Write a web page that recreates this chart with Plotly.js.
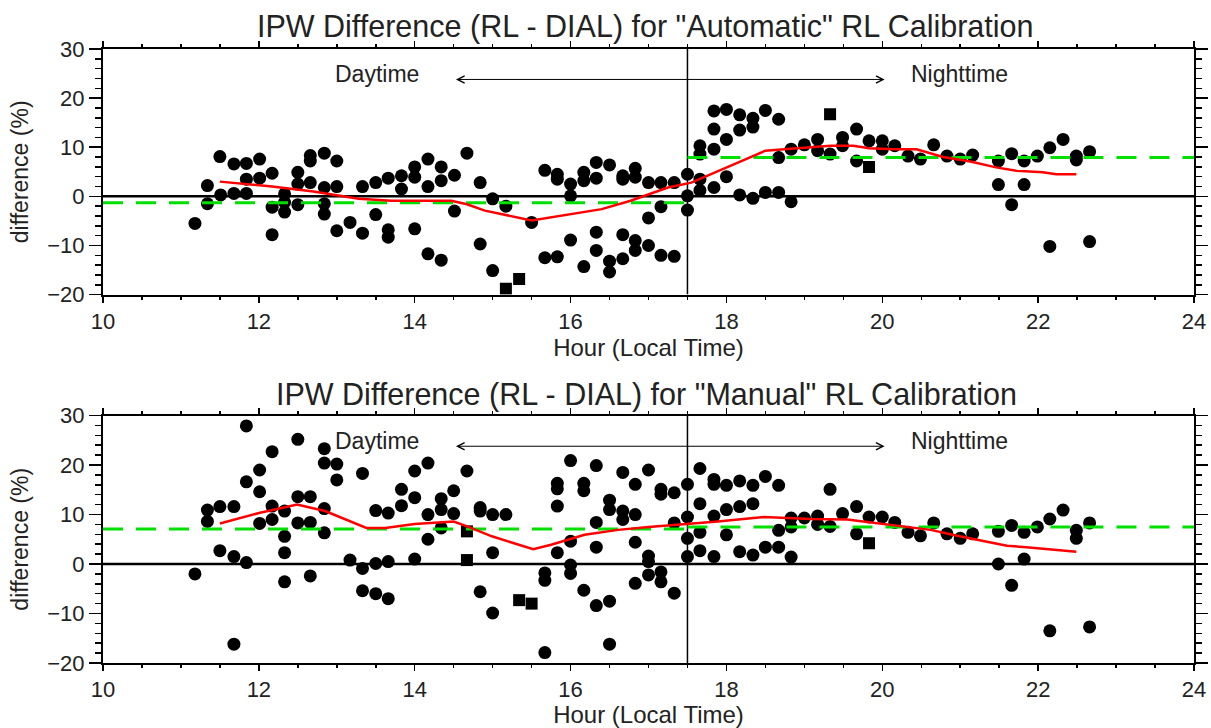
<!DOCTYPE html>
<html><head><meta charset="utf-8">
<script src="https://cdn.plot.ly/plotly-3.0.1.min.js"></script>
<style>html,body{margin:0;padding:0;background:#fff}</style>
</head><body><div id="chart" style="width:1211px;height:728px"></div>
<script>
// ---------- Top panel: "Automatic" RL calibration ----------
const autoCircleHour = [11.18,11.34,11.34,11.50,11.51,11.68,11.68,11.84,11.84,11.84,12.01,12.01,12.17,12.17,12.17,12.33,12.33,12.33,12.50,12.50,12.50,12.66,12.66,12.66,12.84,12.84,12.84,12.84,13.00,13.00,13.00,13.17,13.33,13.33,13.50,13.50,13.66,13.66,13.66,13.83,13.83,14.00,14.00,14.00,14.17,14.17,14.17,14.34,14.34,14.34,14.51,14.51,14.67,14.84,14.84,15.00,15.00,15.17,15.50,15.67,15.67,15.83,15.83,15.83,16.00,16.00,16.00,16.17,16.17,16.17,16.33,16.33,16.33,16.33,16.50,16.50,16.50,16.67,16.67,16.67,16.67,16.83,16.83,16.83,16.83,17.00,17.00,17.00,17.16,17.16,17.16,17.33,17.33,17.50,17.50,17.50,17.66,17.66,17.66,17.66,17.84,17.84,17.84,17.84,18.00,18.00,18.00,18.17,18.17,18.17,18.34,18.34,18.34,18.50,18.50,18.67,18.67,18.67,18.83,18.83,19.00,19.17,19.17,19.33,19.49,19.49,19.67,19.67,19.83,20.00,20.00,20.16,20.33,20.49,20.66,20.83,21.00,21.16,21.49,21.49,21.66,21.66,21.82,21.82,21.99,22.15,22.15,22.32,22.49,22.49,22.66,22.66];
const autoCircleDiff = [-5.5,2.2,-1.5,8.1,0.3,6.6,0.6,6.7,3.5,0.6,7.6,3.7,4.7,-2.2,-7.8,0.5,-1.2,-3.2,4.9,2.5,-1.7,8.3,7.2,2.8,8.8,1.8,-1.5,-3.6,7.2,2.0,-7.0,-5.3,2.0,-7.5,2.8,-3.7,3.7,-6.8,-8.3,4.2,1.5,6.0,3.9,-6.6,7.6,2.0,-11.7,6.0,3.2,-13.0,4.3,-3.0,8.8,2.8,-9.7,-0.5,-15.1,-2.0,-5.3,5.3,-12.5,4.5,3.5,-12.3,2.5,0.1,-8.9,4.9,3.2,-14.3,6.9,3.7,-7.3,-11.0,6.4,-13.2,-15.4,4.2,3.5,-7.8,-12.7,5.7,3.9,-9.0,-11.0,2.8,-4.4,-10.0,2.8,-2.1,-12.0,2.8,-12.2,4.5,0.1,-2.8,10.3,8.6,3.5,1.2,17.4,13.7,9.6,1.8,17.7,11.6,4.0,16.6,13.5,0.3,15.9,14.1,-0.4,17.5,0.8,15.7,7.9,0.8,9.6,-1.1,10.5,11.6,9.3,8.6,12.0,10.3,13.7,7.2,11.3,11.3,9.6,10.3,8.2,7.6,10.5,8.2,7.6,8.4,7.2,2.4,8.7,-1.7,7.2,2.4,8.2,9.9,-10.2,11.6,8.2,7.4,9.1,-9.2];
const autoSquareHour = [15.17,15.34,19.33,19.83];
const autoSquareDiff = [-18.8,-16.8,16.7,6.0];
const autoMeanHour = [11.5,12.17,12.7,13.0,13.28,13.7,14.47,14.67,14.9,15.5,16.0,16.4,16.77,17.25,17.55,17.8,18.1,18.5,18.74,19.08,19.34,19.63,19.83,20.15,20.44,20.78,21.13,21.46,21.72,22.06,22.23,22.49];
const autoMeanDiff = [3.0,2.0,1.0,0.3,-0.5,-0.9,-0.9,-1.6,-2.9,-4.9,-3.6,-2.6,-0.9,1.8,2.8,4.5,6.6,9.3,9.6,10.0,10.3,10.3,9.8,9.6,9.6,8.0,7.1,5.9,5.2,4.9,4.5,4.5];
const autoDayMean = -1.3;
const autoNightMean = 7.9;

// ---------- Bottom panel: "Manual" RL calibration ----------
const manCircleHour = [11.18,11.34,11.34,11.50,11.50,11.68,11.68,11.68,11.84,11.84,11.84,12.01,12.01,12.01,12.17,12.17,12.17,12.33,12.33,12.33,12.33,12.50,12.50,12.50,12.66,12.66,12.66,12.84,12.84,12.84,12.84,13.00,13.00,13.17,13.33,13.33,13.33,13.50,13.50,13.50,13.66,13.66,13.66,13.83,13.83,14.00,14.00,14.00,14.17,14.17,14.17,14.34,14.34,14.34,14.50,14.50,14.67,14.84,14.84,14.84,15.00,15.00,15.00,15.17,15.67,15.67,15.67,15.83,15.83,15.83,15.83,16.00,16.00,16.00,16.00,16.17,16.17,16.17,16.33,16.33,16.33,16.33,16.50,16.50,16.50,16.50,16.67,16.67,16.67,16.83,16.83,16.83,16.83,17.00,17.00,17.00,17.00,17.16,17.16,17.16,17.16,17.33,17.33,17.33,17.50,17.50,17.50,17.50,17.66,17.66,17.66,17.66,17.84,17.84,17.84,17.84,18.00,18.00,18.00,18.17,18.17,18.17,18.34,18.34,18.34,18.50,18.50,18.67,18.67,18.67,18.83,18.83,18.83,19.00,19.17,19.17,19.33,19.33,19.49,19.67,19.67,19.83,20.00,20.16,20.33,20.49,20.66,20.83,21.00,21.16,21.49,21.49,21.66,21.66,21.82,21.82,21.99,22.15,22.15,22.32,22.49,22.49,22.66,22.66];
const manCircleDiff = [-2.0,10.9,8.6,11.6,2.7,11.6,1.5,-16.2,27.9,16.6,0.3,19.0,14.6,8.2,22.7,11.7,9.0,10.7,5.6,2.3,-3.6,25.2,13.6,8.3,13.6,8.4,-2.4,23.3,20.4,11.2,6.3,20.2,17.0,0.8,18.3,-0.9,-5.4,10.8,0.1,-6.0,10.3,0.5,-7.0,15.1,11.8,18.8,13.4,1.0,20.4,10.0,5.0,13.2,11.0,7.3,14.8,10.2,18.8,11.4,10.7,-5.6,10.0,2.3,-9.9,10.0,-1.8,-3.3,-17.9,16.3,15.2,11.7,2.3,20.9,4.6,-0.2,-1.9,16.3,14.8,-5.3,19.9,8.4,3.4,-8.4,12.9,11.0,-7.5,-16.2,18.5,10.7,9.0,16.1,10.0,4.4,-3.9,19.0,1.6,0.5,-2.2,15.1,14.1,-1.6,-3.6,14.4,8.3,-5.9,16.1,9.5,5.2,1.5,19.3,12.2,6.4,2.7,17.1,16.1,9.7,1.5,15.9,11.0,5.9,16.8,11.6,2.5,15.9,12.2,1.8,17.7,3.4,15.9,6.8,3.4,9.3,7.5,1.4,9.3,9.7,8.0,15.1,7.6,10.2,11.6,6.1,9.5,9.5,8.4,6.4,5.7,8.3,6.1,5.2,6.1,6.6,0.0,7.8,-4.3,6.4,1.0,7.5,9.1,-13.5,10.9,6.8,5.2,8.3,-12.7];
const manSquareHour = [14.67,14.67,15.34,15.50,19.83];
const manSquareDiff = [6.6,0.8,-7.3,-8.0,4.2];
const manMeanHour = [11.5,12.0,12.49,12.85,13.38,13.62,14.0,14.5,14.69,14.99,15.52,15.75,16.18,16.61,17.0,17.46,17.89,18.48,18.74,19.08,19.55,19.93,20.27,20.62,20.96,21.3,21.6,21.85,22.15,22.49];
const manMeanDiff = [8.2,10.3,12.0,10.7,7.3,7.3,8.1,8.6,7.5,5.6,3.0,3.9,5.9,6.9,7.5,8.0,8.6,9.5,9.3,9.1,9.0,8.3,7.6,6.9,5.7,4.6,3.7,3.4,3.0,2.5];
const manDayMean = 7.1;
const manNightMean = 7.5;

// ---------- shared ----------
const hourRange = [10, 24];
const diffRange = [-20, 30];
const sunsetHour = 17.5;
const arrowStartHour = 14.51, arrowEndHour = 20.03, arrowDiff = 23.8;
const dayLabel = 'Daytime', nightLabel = 'Nighttime';
const dayLabelHour = 13.51, nightLabelHour = 20.99, labelDiff = 24.9;
const panelTitles = ['IPW Difference (RL - DIAL) for "Automatic" RL Calibration',
                     'IPW Difference (RL - DIAL) for "Manual" RL Calibration'];
const xTitle = 'Hour (Local Time)';
const yTitle = 'difference (%)';

const FONT = 'Liberation Sans, Arial, sans-serif';
const TXT = '#222';

function panelTraces(xa, ya, cH, cD, sH, sD, mH, mD, day, night) {
  return [
    {x: cH, y: cD, xaxis: xa, yaxis: ya, type: 'scatter', mode: 'markers',
     marker: {symbol: 'circle', size: 13, color: '#000'}},
    {x: sH, y: sD, xaxis: xa, yaxis: ya, type: 'scatter', mode: 'markers',
     marker: {symbol: 'square', size: 12, color: '#000'}},
    {x: hourRange, y: [0, 0], xaxis: xa, yaxis: ya, mode: 'lines',
     line: {color: '#000', width: 2.5}},
    {x: [sunsetHour, sunsetHour], y: diffRange, xaxis: xa, yaxis: ya, mode: 'lines',
     line: {color: '#000', width: 1.5}},
    {x: [hourRange[0], sunsetHour], y: [day, day], xaxis: xa, yaxis: ya, mode: 'lines',
     line: {color: '#00e000', width: 3, dash: '20px,13px'}},
    {x: [sunsetHour, hourRange[1]], y: [night, night], xaxis: xa, yaxis: ya, mode: 'lines',
     line: {color: '#00e000', width: 3, dash: '20px,13px'}},
    {x: mH, y: mD, xaxis: xa, yaxis: ya, mode: 'lines',
     line: {color: '#ff0000', width: 2.5}}
  ];
}

const data = [].concat(
  panelTraces('x', 'y', autoCircleHour, autoCircleDiff, autoSquareHour, autoSquareDiff, autoMeanHour, autoMeanDiff, autoDayMean, autoNightMean),
  panelTraces('x2', 'y2', manCircleHour, manCircleDiff, manSquareHour, manSquareDiff, manMeanHour, manMeanDiff, manDayMean, manNightMean)
);

function xAxis(anchor) {
  return {
    anchor: anchor, domain: [0, 1], range: hourRange, tick0: 10, dtick: 2,
    ticks: 'outside', ticklen: 6, tickwidth: 1.5, tickcolor: '#000',
    minor: {dtick: 0.5, ticks: 'outside', ticklen: 3, tickwidth: 1.5, tickcolor: '#000', showgrid: false},
    showline: true, linewidth: 2, linecolor: '#000', mirror: 'ticks',
    showgrid: false, zeroline: false,
    tickfont: {family: FONT, size: 22, color: TXT},
    title: {text: xTitle, font: {family: FONT, size: 24, color: TXT}, standoff: 2}
  };
}
function yAxis(anchor, domain) {
  return {
    anchor: anchor, domain: domain, range: diffRange, tick0: 0, dtick: 10,
    ticks: 'outside', ticklen: 12, tickwidth: 1.5, tickcolor: '#000',
    minor: {dtick: 2, ticks: 'outside', ticklen: 6, tickwidth: 1.5, tickcolor: '#000', showgrid: false},
    showline: true, linewidth: 2, linecolor: '#000', mirror: 'ticks',
    showgrid: false, zeroline: false,
    tickfont: {family: FONT, size: 22, color: TXT},
    title: {text: yTitle, font: {family: FONT, size: 23, color: TXT}, standoff: 12}
  };
}

function panelAnnotations(xr, yr) {
  return [
    {x: dayLabelHour, y: labelDiff, xref: xr, yref: yr, text: dayLabel, showarrow: false,
     font: {family: FONT, size: 23, color: TXT}},
    {x: nightLabelHour, y: labelDiff, xref: xr, yref: yr, text: nightLabel, showarrow: false,
     font: {family: FONT, size: 23, color: TXT}},
    {x: arrowEndHour, y: arrowDiff, ax: arrowStartHour, ay: arrowDiff, xref: xr, yref: yr,
     axref: xr, ayref: yr, text: '', showarrow: true, arrowside: 'end+start',
     arrowhead: 5, arrowsize: 1.4, arrowwidth: 1, arrowcolor: '#000', standoff: 0, startstandoff: 0}
  ];
}

const layout = {
  width: 1211, height: 728,
  margin: {l: 103, r: 17, t: 49, b: 65, pad: 0},
  paper_bgcolor: '#fff', plot_bgcolor: '#fff',
  showlegend: false,
  font: {family: FONT, color: TXT},
  title: {text: panelTitles[0], font: {family: FONT, size: 30.5, color: TXT},
          xref: 'paper', x: 0.497, xanchor: 'center', yref: 'container', y: 0.9636, yanchor: 'middle'},
  xaxis: xAxis('y'),
  yaxis: yAxis('x', [0.600, 1]),
  xaxis2: xAxis('y2'),
  yaxis2: yAxis('x2', [0, 0.403]),
  annotations: [].concat(
    panelAnnotations('x', 'y'),
    panelAnnotations('x2', 'y2'),
    [{text: panelTitles[1], xref: 'paper', yref: 'paper', x: 0.498, y: 0.4376,
      xanchor: 'center', yanchor: 'middle', showarrow: false,
      font: {family: FONT, size: 30.5, color: TXT}}]
  )
};

Plotly.newPlot('chart', data, layout, {displayModeBar: false, staticPlot: true});
</script>
</body></html>
